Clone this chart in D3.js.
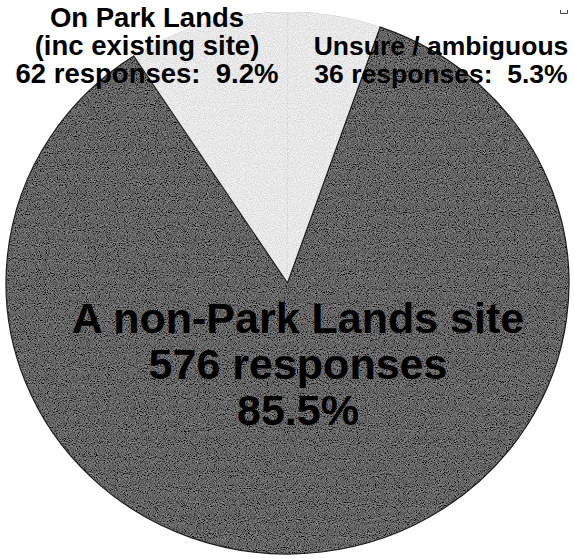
<!DOCTYPE html>
<html>
<head>
<meta charset="utf-8">
<script src="https://cdn.jsdelivr.net/npm/d3@7"></script>
<style>
  html, body { margin: 0; padding: 0; background: #fff; }
  svg { display: block; }
  text { font-family: "Liberation Sans", Arial, sans-serif; font-weight: bold; fill: #000; }
</style>
</head>
<body>
<script>
// Survey answers, in clockwise order starting from 12 o'clock
const categories = ["Unsure / ambiguous", "A non-Park Lands site", "On Park Lands"];
const responses = [36, 576, 62];
const percents = ["5.3%", "85.5%", "9.2%"];
const sliceFills = ["#e8e8e8", "#646464", "#e8e8e8"];

const W = 574, H = 559;
const cx = 287.5, cy = 283, rx = 281.5, ry = 271;

const svg = d3.select("body").append("svg")
  .attr("width", W).attr("height", H);

// grain texture applied to the pie slices
const defs = svg.append("defs");
const f = defs.append("filter").attr("id", "grain")
  .attr("x", 0).attr("y", 0).attr("width", 1).attr("height", 1);
f.append("feTurbulence").attr("type", "fractalNoise")
  .attr("baseFrequency", 0.9).attr("numOctaves", 2).attr("seed", 7).attr("result", "noise");
f.append("feColorMatrix").attr("in", "noise").attr("type", "matrix")
  .attr("values", "1 0 0 0 0  1 0 0 0 0  1 0 0 0 0  0 0 0 0 1").attr("result", "gray");
f.append("feComposite").attr("in", "SourceGraphic").attr("in2", "gray")
  .attr("operator", "arithmetic").attr("k1", 0).attr("k2", 1).attr("k3", 0.55).attr("k4", -0.275)
  .attr("result", "mix");
f.append("feComposite").attr("in", "mix").attr("in2", "SourceGraphic").attr("operator", "in");

const pie = d3.pie().sort(null).value(d => d);
const arcs = pie(responses);
const arc = d3.arc().innerRadius(0).outerRadius(rx);

const g = svg.append("g")
  .attr("transform", `translate(${cx},${cy}) scale(1,${ry / rx})`);

g.selectAll("path.slice")
  .data(arcs)
  .join("path")
  .attr("class", "slice")
  .attr("d", arc)
  .attr("fill", (d, i) => sliceFills[i])
  .attr("stroke", (d, i) => i === 1 ? "none" : sliceFills[i])
  .attr("stroke-width", 0.8)
  .attr("vector-effect", "non-scaling-stroke")
  .attr("filter", "url(#grain)");

// dark outline along the large slice
g.append("path")
  .attr("d", arc(arcs[1]))
  .attr("fill", "none")
  .attr("stroke", "#1c1c1c")
  .attr("stroke-width", 1.2)
  .attr("vector-effect", "non-scaling-stroke");

// labels
const labels = [
  { x: 147, size: 27.5, lh: 28, y0: 27,
    lines: ["On Park Lands", "(inc existing site)", `${responses[2]} responses:\u00a0\u00a0${percents[2]}`] },
  { x: 441, size: 26.5, lh: 28, y0: 55,
    lines: [categories[0], `${responses[0]} responses:\u00a0\u00a0${percents[0]}`] },
  { x: 298, size: 43, lh: 46, y0: 333,
    lines: [categories[1], `${responses[1]} responses`, percents[1]] }
];

labels.forEach(l => {
  const t = svg.append("text")
    .attr("text-anchor", "middle")
    .style("font-size", l.size + "px");
  l.lines.forEach((s, i) => {
    t.append("tspan").attr("x", l.x).attr("y", l.y0 + i * l.lh).text(s);
  });
});

// small corner mark at top right
svg.append("path")
  .attr("d", "M560.5,10 V13.5 H567.5 V10")
  .attr("fill", "none").attr("stroke", "#444").attr("stroke-width", 1);
</script>
</body>
</html>
